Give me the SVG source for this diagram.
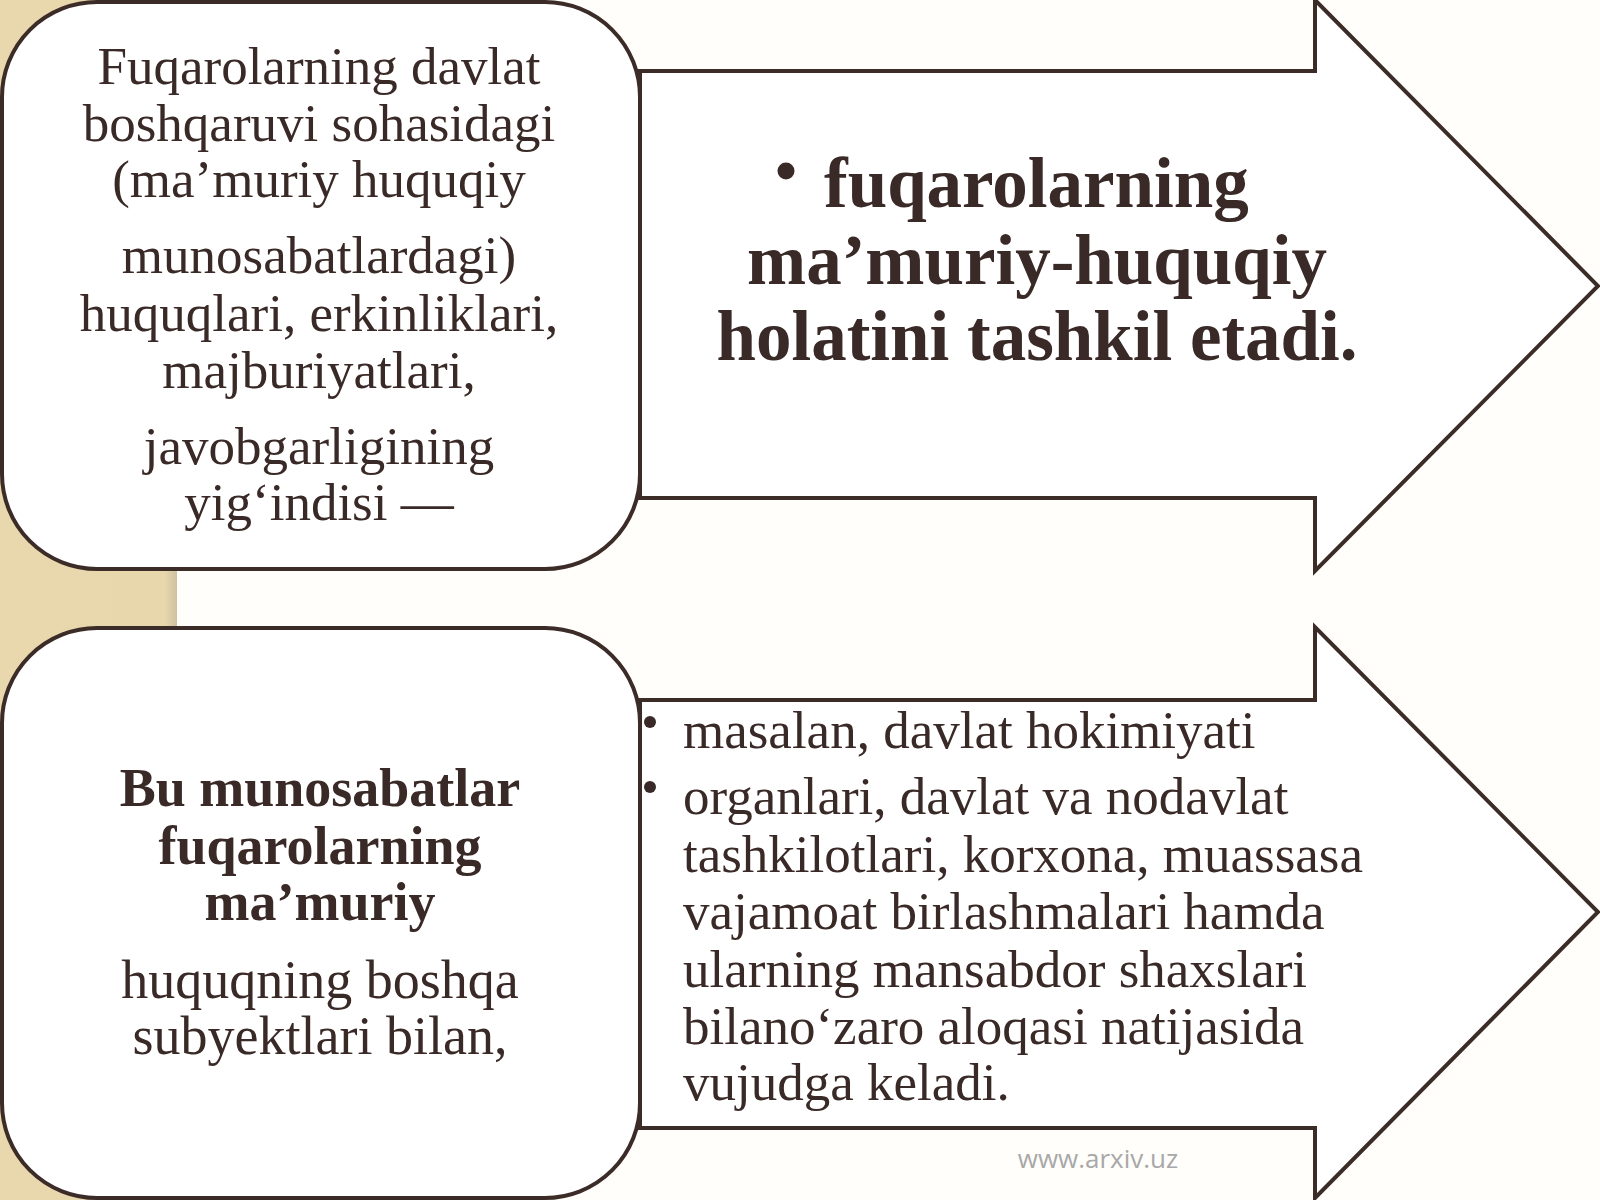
<svg xmlns="http://www.w3.org/2000/svg" width="1600" height="1200" viewBox="0 0 1600 1200">
  <defs>
    <linearGradient id="strip" x1="0" y1="0" x2="1" y2="0">
      <stop offset="0" stop-color="#E9D8AE"/>
      <stop offset="0.93" stop-color="#E8D7AD"/>
      <stop offset="1" stop-color="#CFC1A0"/>
    </linearGradient>
  </defs>
  <style>
    .shape { fill: #FFFFFF; stroke: #3C2C28; stroke-width: 4; stroke-linejoin: miter; }
    .t { font-family: "Liberation Serif", "Times New Roman", serif; fill: #3A2A27; }
    .c { text-anchor: middle; }
    .b { font-weight: bold; }
    .wm { font-family: "Open Sans", "DejaVu Sans", sans-serif; fill: #A8A8A8; font-size: 26px; }
  </style>
  <rect x="0" y="0" width="1600" height="1200" fill="#FFFEFB"/>
  <rect x="0" y="0" width="177" height="1200" fill="url(#strip)"/>

  <g id="connectors">
    <polygon id="arrow1" class="shape" points="640,71 1315,71 1315,0 1598,286 1315,571 1315,498 640,498"/>
    <polygon id="arrow2" class="shape" points="640,700 1315,700 1315,627 1598,912 1315,1198 1315,1128 640,1128"/>
  </g>

  <g id="arrow1-text" class="t b" font-size="71">
    <circle cx="786" cy="171" r="8.5" fill="#3A2A27"/>
    <text x="824" y="207">fuqarolarning</text>
    <text class="c" x="1037" y="284">ma’muriy-huquqiy</text>
    <text class="c" x="1037" y="360">holatini tashkil etadi.</text>
  </g>

  <g id="arrow2-text" class="t" font-size="53">
    <circle cx="650" cy="722" r="6" fill="#3A2A27"/>
    <circle cx="650" cy="787" r="6" fill="#3A2A27"/>
    <text x="683" y="748">masalan, davlat hokimiyati</text>
    <text x="683" y="814">organlari, davlat va nodavlat</text>
    <text x="683" y="872">tashkilotlari, korxona, muassasa</text>
    <text x="683" y="929">vajamoat birlashmalari hamda</text>
    <text x="683" y="987">ularning mansabdor shaxslari</text>
    <text x="683" y="1044">bilano‘zaro aloqasi natijasida</text>
    <text x="683" y="1100">vujudga keladi.</text>
  </g>

  <g id="node-top">
    <rect class="shape" x="2" y="2" width="638" height="567" rx="95" ry="95"/>
    <g class="t c" font-size="53">
      <text x="319" y="84">Fuqarolarning davlat</text>
      <text x="319" y="141">boshqaruvi sohasidagi</text>
      <text x="319" y="197">(ma’muriy huquqiy</text>
      <text x="319" y="273">munosabatlardagi)</text>
      <text x="319" y="331">huquqlari, erkinliklari,</text>
      <text x="319" y="388">majburiyatlari,</text>
      <text x="319" y="464">javobgarligining</text>
      <text x="319" y="520">yig‘indisi —</text>
    </g>
  </g>

  <g id="node-bottom">
    <rect class="shape" x="2" y="628" width="638" height="570" rx="95" ry="95"/>
    <g class="t c" font-size="54">
      <text class="b" x="320" y="806">Bu munosabatlar</text>
      <text class="b" x="320" y="864">fuqarolarning</text>
      <text class="b" x="320" y="920">ma’muriy</text>
      <text x="320" y="998">huquqning boshqa</text>
      <text x="320" y="1054">subyektlari bilan,</text>
    </g>
  </g>

  <text class="wm" x="1098" y="1168" text-anchor="middle">www.arxiv.uz</text>
</svg>
